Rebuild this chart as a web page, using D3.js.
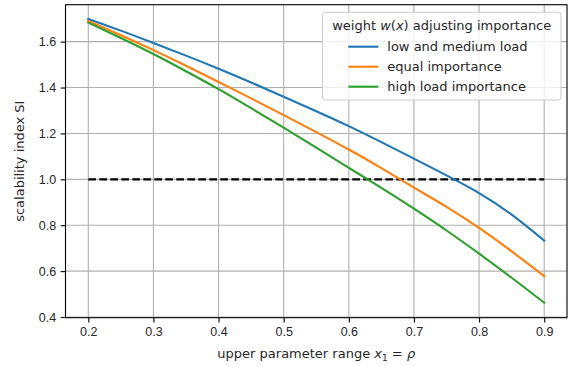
<!DOCTYPE html>
<html>
<head>
<meta charset="utf-8">
<script src="https://cdn.jsdelivr.net/npm/d3@7"></script>
<style>
  html, body { margin: 0; padding: 0; background: #fff; }
  svg { display: block; font-family: "DejaVu Sans", sans-serif; }
  .tick text { font-size: 12.5px; fill: #262626; }
</style>
</head>
<body>
<svg id="chart" width="571" height="366"></svg>
<script>
// x values of the sampled curves (upper parameter range rho)
const xValues = [0.2, 0.25, 0.3, 0.35, 0.4, 0.45, 0.5, 0.55, 0.6, 0.65, 0.7, 0.75, 0.8, 0.85, 0.9];

// scalability index
const lowMediumLoad = [1.699, 1.648, 1.594, 1.539, 1.482, 1.422, 1.360, 1.297, 1.232, 1.162, 1.090, 1.017, 0.940, 0.846, 0.733];
const equalImportance = [1.690, 1.628, 1.563, 1.495, 1.424, 1.353, 1.280, 1.206, 1.130, 1.049, 0.964, 0.880, 0.788, 0.686, 0.578];
const highLoadImportance = [1.683, 1.616, 1.546, 1.471, 1.393, 1.310, 1.225, 1.138, 1.050, 0.963, 0.872, 0.777, 0.676, 0.571, 0.462];

const seriesNames = ["low and medium load", "equal importance", "high load importance"];
const seriesColors = ["#1f77b4", "#ff7f0e", "#2ca02c"];
const seriesValues = [lowMediumLoad, equalImportance, highLoadImportance];

const thresholdValue = 1.0;
const xTicks = [0.2, 0.3, 0.4, 0.5, 0.6, 0.7, 0.8, 0.9];
const yTicks = [0.4, 0.6, 0.8, 1.0, 1.2, 1.4, 1.6];

const svg = d3.select("#chart");
const margin = { top: 4.7, right: 4, bottom: 48.3, left: 65.5 };
const width = 571 - margin.left - margin.right;
const height = 366 - margin.top - margin.bottom;

const x = d3.scaleLinear().domain([0.165, 0.935]).range([0, width]);
const y = d3.scaleLinear().domain([0.397, 1.761]).range([height, 0]);

const g = svg.append("g").attr("transform", `translate(${margin.left},${margin.top})`);

// grid
g.append("g").selectAll("line").data(xTicks).join("line")
    .attr("x1", d => x(d)).attr("x2", d => x(d))
    .attr("y1", 0).attr("y2", height)
    .attr("stroke", "#b0b0b0").attr("stroke-width", 1.1);
g.append("g").selectAll("line").data(yTicks).join("line")
    .attr("x1", 0).attr("x2", width)
    .attr("y1", d => y(d)).attr("y2", d => y(d))
    .attr("stroke", "#b0b0b0").attr("stroke-width", 1.1);

// axes
const xAxis = g.append("g")
    .attr("transform", `translate(0,${height})`)
    .call(d3.axisBottom(x).tickValues(xTicks).tickFormat(d3.format(".1f")).tickSizeOuter(0).tickSize(4.8).tickPadding(4.5));
const yAxis = g.append("g")
    .call(d3.axisLeft(y).tickValues(yTicks).tickFormat(d3.format(".1f")).tickSizeOuter(0).tickSize(4.8).tickPadding(4.5));
[xAxis, yAxis].forEach(a => {
    a.select(".domain").remove();
    a.selectAll(".tick line").attr("stroke", "#000").attr("stroke-width", 1.1);
});

// threshold line
g.append("line")
    .attr("x1", x(xValues[0])).attr("x2", x(xValues[xValues.length - 1]))
    .attr("y1", y(thresholdValue)).attr("y2", y(thresholdValue))
    .attr("stroke", "#000").attr("stroke-width", 2.1)
    .attr("stroke-dasharray", "7.7 3.3");

// curves
const line = d3.line()
    .x((d, i) => x(xValues[i]))
    .y(d => y(d))
    .curve(d3.curveNatural);
seriesValues.forEach((vals, k) => {
    g.append("path")
        .attr("d", line(vals))
        .attr("fill", "none")
        .attr("stroke", seriesColors[k])
        .attr("stroke-width", 2.1)
        .attr("stroke-linecap", "square");
});

// frame
g.append("rect")
    .attr("width", width).attr("height", height)
    .attr("fill", "none").attr("stroke", "#000").attr("stroke-width", 1.1);

// axis labels
const xLabel = svg.append("text")
    .attr("x", margin.left + width / 2).attr("y", 358)
    .attr("text-anchor", "middle").attr("font-size", 13).attr("fill", "#262626");
xLabel.append("tspan").text("upper parameter range ");
xLabel.append("tspan").attr("font-style", "italic").text("x");
xLabel.append("tspan").attr("font-size", 9).attr("dy", 2.5).text("1");
xLabel.append("tspan").attr("dy", -2.5).text(" = ");
xLabel.append("tspan").attr("font-style", "italic").text("ρ");

svg.append("text")
    .attr("transform", `translate(24,${margin.top + height / 2}) rotate(-90)`)
    .attr("text-anchor", "middle").attr("font-size", 13).attr("fill", "#262626")
    .text("scalability index SI");

// legend
const legend = svg.append("g").attr("transform", "translate(322.5,12.3)");
legend.append("rect")
    .attr("width", 238.5).attr("height", 87.7).attr("rx", 3)
    .attr("fill", "#fff").attr("fill-opacity", 0.8)
    .attr("stroke", "#cccccc").attr("stroke-width", 1);
const title = legend.append("text")
    .attr("x", 119.25).attr("y", 17.5)
    .attr("text-anchor", "middle").attr("font-size", 13).attr("fill", "#262626");
title.append("tspan").text("weight ");
title.append("tspan").attr("font-style", "italic").text("w");
title.append("tspan").text("(");
title.append("tspan").attr("font-style", "italic").text("x");
title.append("tspan").text(") adjusting importance");

seriesNames.forEach((name, k) => {
    const row = legend.append("g").attr("transform", `translate(0,${34.4 + k * 20})`);
    row.append("line")
        .attr("x1", 25.8).attr("x2", 55.8)
        .attr("stroke", seriesColors[k]).attr("stroke-width", 2.1);
    row.append("text")
        .attr("x", 64.8).attr("y", 4.6)
        .attr("font-size", 13).attr("fill", "#262626")
        .text(name);
});
</script>
</body>
</html>
